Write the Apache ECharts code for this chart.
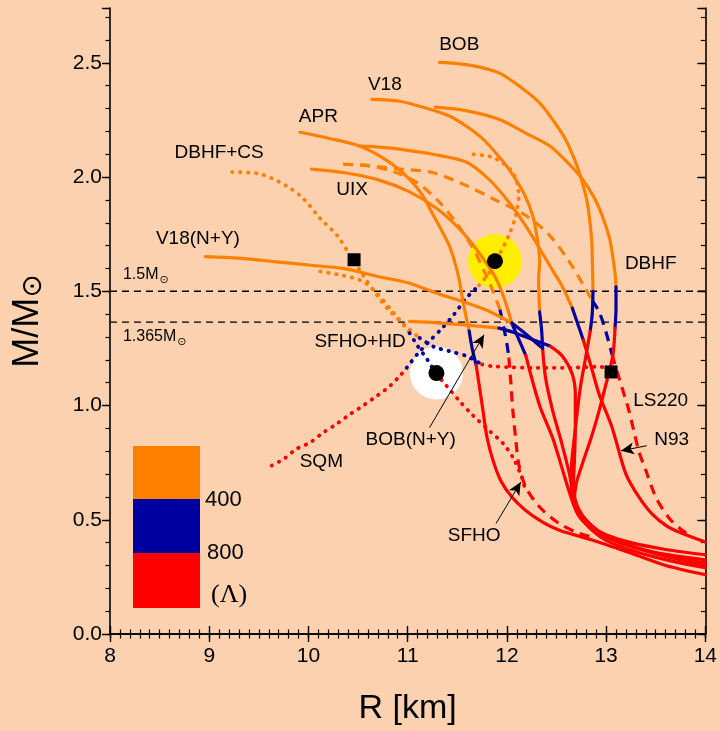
<!DOCTYPE html>
<html><head><meta charset="utf-8">
<script src="https://cdn.jsdelivr.net/npm/echarts@6.0.0/dist/echarts.min.js"></script>
<style>html,body{margin:0;padding:0;background:#FBD1AF;}#c{width:720px;height:731px;}</style>
</head><body><div id="c"></div><script>
// ---------- data (R [km], M/Msun) ----------
// each EOS split into orange (Λ<400), blue (400-800), red (Λ>800) parts
const BOB_o = [[11.32,2.502],[11.62,2.49],[11.92,2.456],[12.15,2.39],[12.33,2.325],[12.48,2.24],[12.59,2.166],[12.68,2.08],[12.74,2.006],[12.80,1.91],[12.83,1.832],[12.855,1.72],[12.862,1.62],[12.868,1.50]];
const BOB_b = [[12.868,1.50],[12.86,1.40],[12.84,1.326]];
const BOB_r = [[12.84,1.326],[12.79,1.20],[12.74,1.078],[12.68,0.86],[12.65,0.72],[12.65,0.62],[12.69,0.55],[12.79,0.49],[12.97,0.44],[13.25,0.40],[13.6,0.37],[14.0,0.347]];

const DBHF_o = [[11.28,2.306],[11.6,2.29],[11.92,2.253],[12.2,2.19],[12.43,2.137],[12.62,2.06],[12.76,1.992],[12.88,1.91],[12.96,1.832],[13.03,1.74],[13.06,1.673],[13.09,1.58],[13.10,1.52]];
const DBHF_b = [[13.10,1.52],[13.10,1.43],[13.09,1.339]];
const DBHF_r = [[13.09,1.339],[13.07,1.223],[13.03,1.146],[12.99,1.078],[12.93,0.978],[12.85,0.86],[12.76,0.744],[12.70,0.66],[12.68,0.58],[12.72,0.52],[12.83,0.47],[13.02,0.42],[13.3,0.375],[13.65,0.345],[14.0,0.325]];

const V18_o = [[10.64,2.34],[10.92,2.332],[11.2,2.30],[11.42,2.267],[11.6,2.22],[11.76,2.166],[11.9,2.10],[12.02,2.035],[12.17,1.93],[12.26,1.832],[12.31,1.72],[12.33,1.63],[12.32,1.556],[12.33,1.41]];
const V18_b = [[12.33,1.41],[12.35,1.33],[12.36,1.25]];
const V18_r = [[12.36,1.25],[12.39,1.12],[12.46,0.98],[12.55,0.84],[12.62,0.72],[12.67,0.62],[12.72,0.55],[12.82,0.49],[13.0,0.43],[13.3,0.38],[13.65,0.34],[14.0,0.31]];

const N93_o = [[10.52,2.135],[10.75,2.13],[10.92,2.122],[11.25,2.10],[11.59,2.066],[11.82,1.99],[12.02,1.891],[12.2,1.78],[12.33,1.687],[12.45,1.60],[12.56,1.52],[12.66,1.426]];
const N93_b = [[12.66,1.426],[12.72,1.35],[12.77,1.287]];
const N93_r = [[12.77,1.287],[12.85,1.17],[12.93,1.049],[13.06,0.904],[13.20,0.70],[13.33,0.60],[13.46,0.527],[13.62,0.47],[13.77,0.44],[14.0,0.403]];

const APR_o = [[9.915,2.196],[10.2,2.17],[10.52,2.135],[10.8,2.07],[11.02,1.99],[11.15,1.92],[11.25,1.84],[11.35,1.76],[11.42,1.70],[11.48,1.62],[11.52,1.55],[11.56,1.45],[11.62,1.326]];
const APR_b = [[11.62,1.326],[11.65,1.25],[11.69,1.178]];
const APR_r = [[11.69,1.178],[11.76,0.976],[11.80,0.86],[11.86,0.76],[11.94,0.67],[12.05,0.60],[12.19,0.541],[12.36,0.49],[12.53,0.454],[12.86,0.411],[13.26,0.352],[13.6,0.30],[14.0,0.26]];

const UIX_o = [[10.03,2.035],[10.35,2.02],[10.69,1.99],[11.02,1.935],[11.3,1.86],[11.55,1.76],[11.75,1.65],[11.89,1.556],[11.98,1.46],[12.05,1.36]];
const UIX_b = [[12.05,1.36],[12.12,1.29],[12.19,1.22]];
const UIX_r = [[12.19,1.22],[12.33,1.0],[12.46,0.86],[12.56,0.72],[12.63,0.62],[12.7,0.54],[12.82,0.47],[13.0,0.41],[13.3,0.36],[13.65,0.32],[14.0,0.29]];

const V18NY_o = [[8.96,1.652],[9.3,1.645],[9.68,1.629],[10.0,1.615],[10.35,1.60],[10.7,1.565],[11.02,1.535],[11.3,1.49],[11.55,1.456],[11.82,1.413],[12.05,1.361]];
const V18NY_b = [[12.05,1.361],[12.2,1.31],[12.36,1.25]];

const SFHOHD_o = [[11.02,1.368],[11.3,1.362],[11.6,1.352],[11.92,1.339]];
const SFHOHD_b = [[11.92,1.339],[12.07,1.32],[12.25,1.29],[12.44,1.259]];
const SFHOHD_r = [[12.44,1.259],[12.56,1.216],[12.66,1.136],[12.69,1.049],[12.69,0.904],[12.68,0.75],[12.67,0.65],[12.69,0.57],[12.77,0.50],[12.92,0.45],[13.15,0.40],[13.5,0.35],[14.0,0.30]];

const SFHO_o = [[10.35,2.056],[10.6,2.05],[10.85,2.025],[11.09,1.977],[11.32,1.89],[11.49,1.80],[11.66,1.687],[11.79,1.571],[11.86,1.50],[11.93,1.42]];
const SFHO_b = [[11.93,1.42],[11.97,1.34],[12.0,1.27],[12.02,1.21]];
const SFHO_r = [[12.02,1.21],[12.04,1.10],[12.06,0.978],[12.09,0.85],[12.12,0.743],[12.19,0.643],[12.33,0.556],[12.53,0.483],[12.73,0.44],[12.9,0.42]];

const LS220_o = [[10.35,2.056],[10.6,2.05],[10.92,2.035],[11.25,2.02],[11.59,1.963],[11.86,1.905],[12.19,1.832],[12.43,1.745],[12.63,1.629],[12.79,1.513],[12.86,1.46]];
const LS220_b = [[12.86,1.46],[12.93,1.41],[13.0,1.32],[13.06,1.223]];
const LS220_r = [[13.06,1.223],[13.13,1.121],[13.23,0.978],[13.33,0.80],[13.40,0.717],[13.50,0.60],[13.63,0.51],[13.76,0.456],[13.85,0.43]];

const CS_o = [[9.23,2.022],[9.51,2.014],[9.78,1.961],[9.95,1.905],[10.12,1.818],[10.29,1.744],[10.42,1.657],[10.55,1.57],[10.69,1.483],[10.82,1.413],[10.97,1.352],[11.12,1.296]];
const CS_b = [[11.12,1.296],[11.27,1.256],[11.42,1.238],[11.59,1.217],[11.75,1.18]];
const CS_r = [[11.75,1.18],[11.85,1.172],[12.02,1.168],[12.26,1.165],[12.6,1.165],[12.93,1.17],[13.04,1.16]];

const HYB_o = [[10.12,1.587],[10.35,1.569],[10.55,1.543],[10.69,1.491],[10.82,1.426],[10.92,1.374],[11.02,1.317]];
const HYB_b = [[11.02,1.317],[11.10,1.261],[11.20,1.20],[11.28,1.143],[11.34,1.113]];
const HYB_r = [[11.34,1.113],[11.39,1.087],[11.52,1.021],[11.65,0.96],[11.82,0.891],[11.97,0.83],[12.07,0.765],[12.15,0.686],[12.19,0.62]];

const SQM_r = [[9.63,0.737],[9.75,0.766],[9.88,0.81],[10.02,0.839],[10.15,0.882],[10.28,0.918],[10.42,0.962],[10.55,0.999],[10.69,1.042],[10.82,1.085],[10.92,1.129],[10.99,1.165]];
const SQM_b = [[10.99,1.165],[11.10,1.226],[11.22,1.282],[11.35,1.34],[11.47,1.40],[11.59,1.47],[11.72,1.526]];
const SQM_o = [[11.72,1.526],[11.82,1.58],[11.92,1.658],[12.02,1.745],[12.09,1.832],[12.12,1.919],[12.06,2.02],[11.86,2.086],[11.62,2.10]];

const refMasses = [1.5, 1.365];
const squareR = [10.46, 13.05], squareM = [1.638, 1.147];
const yellowPt = [11.88, 1.632], whitePt = [11.29, 1.142];

const labelText = ['BOB','V18','APR','DBHF+CS','UIX','V18(N+Y)','DBHF','SFHO+HD','LS220','N93','BOB(N+Y)','SQM','SFHO'];
const labelR = [11.52,10.77,10.10,9.10,10.44,8.886,13.45,10.52,13.55,13.66,11.03,10.13,11.67];
const labelM = [2.578,2.405,2.266,2.105,1.944,1.731,1.62,1.278,1.023,0.849,0.849,0.756,0.43];
const arrows = [[[11.22,0.903],[11.77,1.31]], [[11.89,0.483],[12.14,0.665]], [[13.41,0.824],[13.15,0.802]]];
const legendVals = ['400','800','(Λ)'];

// ---------- chart ----------
const ORANGE='#FF8000', BLUE='#0000A0', RED='#FF0000';
const FONT='"Liberation Sans", Arial, sans-serif';
const curves = [
  {o:SQM_o,b:SQM_b,r:SQM_r,s:'dot'},
  {o:CS_o,b:CS_b,r:CS_r,s:'dot'},
  {o:HYB_o,b:HYB_b,r:HYB_r,s:'dot'},
  {o:SFHO_o,b:SFHO_b,r:SFHO_r,s:'dash'},
  {o:LS220_o,b:LS220_b,r:LS220_r,s:'dash'},
  {o:APR_o,b:APR_b,r:APR_r,s:'solid'},
  {o:UIX_o,b:UIX_b,r:UIX_r,s:'solid'},
  {o:V18_o,b:V18_b,r:V18_r,s:'solid'},
  {o:N93_o,b:N93_b,r:N93_r,s:'solid'},
  {o:BOB_o,b:BOB_b,r:BOB_r,s:'solid'},
  {o:DBHF_o,b:DBHF_b,r:DBHF_r,s:'solid'},
  {o:V18NY_o,b:V18NY_b,r:null,s:'solid'},
  {o:SFHOHD_o,b:SFHOHD_b,r:SFHOHD_r,s:'solid'}
];
const series = [];
series.push({type:'scatter', data:[yellowPt], symbol:'circle', symbolSize:54, itemStyle:{color:'#FFEE00', opacity:1}, z:1, silent:true});
series.push({type:'scatter', data:[whitePt], symbol:'circle', symbolSize:53, itemStyle:{color:'#FFFFFF', opacity:1}, z:1, silent:true});
refMasses.forEach(m => series.push({type:'line', data:[[8,m],[14,m]], symbol:'none', silent:true, z:2,
  lineStyle:{color:'#000', width:1.4, type:[7,5]}}));
curves.forEach(c => {
  [[c.o,ORANGE],[c.b,BLUE],[c.r,RED]].forEach(([d,col]) => {
    if (!d) return;
    const ls = {color:col, width:3.2, type:'solid', cap:'round', join:'round'};
    if (c.s==='dash') { ls.type=[10,7]; ls.cap='butt'; }
    if (c.s==='dot') { ls.type=[0.5,7.5]; ls.width=3.8; }
    series.push({type:'line', data:d, symbol:'none', smooth:0.3, silent:true, z:3, lineStyle:ls});
  });
});
series.push({type:'scatter', data:[yellowPt, whitePt], symbol:'circle', symbolSize:16, itemStyle:{color:'#000', opacity:1}, z:5, silent:true});
series.push({type:'scatter', data:squareR.map((r,i)=>[r,squareM[i]]), symbol:'rect', symbolSize:13, itemStyle:{color:'#000', opacity:1}, z:5, silent:true});
series.push({type:'scatter', data:labelR.map((r,i)=>[r,labelM[i],labelText[i]]), symbolSize:1, itemStyle:{color:'rgba(0,0,0,0)', opacity:1}, z:6, silent:true,
  label:{show:true, position:'inside', formatter:p=>p.data[2], fontSize:19, color:'#000', opacity:1, fontFamily:FONT}});
series.push({type:'scatter', data:[[8.125,1.572,'1.5'],[8.125,1.302,'1.365']], symbolSize:1, itemStyle:{color:'rgba(0,0,0,0)', opacity:1}, z:6, silent:true,
  label:{show:true, position:'right', distance:0, opacity:1, formatter:p=>'{a|'+p.data[2]+'M}{b|⊙}',
    rich:{a:{fontSize:16, color:'#000', fontFamily:FONT, lineHeight:22, verticalAlign:'middle'}, b:{fontSize:11, color:'#000', fontFamily:'DejaVu Sans', verticalAlign:'bottom', lineHeight:22, padding:[6,0,0,1]}}}});
series.push({type:'line', data:[], silent:true, z:6,
  markLine:{silent:true, symbol:['none','arrow'], symbolSize:[9,13], animation:false, label:{show:false},
    lineStyle:{color:'#000', width:1, type:'solid', opacity:1},
    data: arrows.map(a=>[{coord:a[0]},{coord:a[1]}])}});

const xBase = {type:'value', min:8, max:14, interval:1, splitLine:{show:false}};
const yBase = {type:'value', min:0, max:2.74, splitLine:{show:false}};
const axLine = {show:true, lineStyle:{color:'#000', width:1.6}};
const option = {
  backgroundColor:'#FBD1AF',
  animation:false,
  grid:{left:109, right:13, top:8, bottom:93, containLabel:false},
  xAxis:[
    Object.assign({}, xBase, {position:'bottom', axisLine:axLine,
      axisTick:{inside:true, length:8, lineStyle:{color:'#000', width:1.4}},
      minorTick:{show:true, splitNumber:10, length:4.5, lineStyle:{color:'#000', width:1.2}},
      axisLabel:{fontSize:21, color:'#000', margin:12, fontFamily:FONT},
      name:'R [km]', nameLocation:'middle', nameGap:58, nameTextStyle:{fontSize:34, color:'#000', fontFamily:FONT}}),
    Object.assign({}, xBase, {position:'bottom', axisLine:{show:false},
      axisTick:{inside:false, length:4, lineStyle:{color:'#000', width:1.4}}, axisLabel:{show:false}}),
    Object.assign({}, xBase, {position:'top', axisLine:axLine,
      axisTick:{inside:true, length:8, lineStyle:{color:'#000', width:1.4}},
      minorTick:{show:true, splitNumber:10, length:4.5, lineStyle:{color:'#000', width:1.2}},
      axisLabel:{show:false}})
  ],
  yAxis:[
    Object.assign({}, yBase, {position:'left', interval:0.5, axisLine:axLine,
      axisTick:{inside:false, length:8, lineStyle:{color:'#000', width:1.4}},
      axisLabel:{fontSize:21, color:'#000', margin:8, fontFamily:FONT,
        formatter:v=> (Math.abs(v/0.5-Math.round(v/0.5))<1e-6 ? v.toFixed(1) : '')},
      name:'{a|M/M}{b|⊙}', nameLocation:'middle', nameGap:62, nameRotate:90,
      nameTextStyle:{rich:{a:{fontSize:36, color:'#000', fontFamily:FONT, lineHeight:40, verticalAlign:'middle'}, b:{fontSize:28, color:'#000', fontFamily:'DejaVu Sans', lineHeight:40, verticalAlign:'bottom', padding:[12,0,0,0]}}}}),
    Object.assign({}, yBase, {position:'left', interval:0.1, axisLine:{show:false},
      axisTick:{inside:false, length:4.5, lineStyle:{color:'#000', width:1.2}}, axisLabel:{show:false}}),
    Object.assign({}, yBase, {position:'right', interval:0.5, axisLine:axLine,
      axisTick:{inside:true, length:8, lineStyle:{color:'#000', width:1.4}}, axisLabel:{show:false}}),
    Object.assign({}, yBase, {position:'right', interval:0.1, axisLine:{show:false},
      axisTick:{inside:true, length:4.5, lineStyle:{color:'#000', width:1.2}}, axisLabel:{show:false}})
  ],
  graphic:[
    {type:'rect', shape:{x:133, y:446, width:67, height:53}, style:{fill:ORANGE}},
    {type:'rect', shape:{x:133, y:499, width:67, height:54}, style:{fill:BLUE}},
    {type:'rect', shape:{x:133, y:553, width:67, height:55}, style:{fill:RED}},
    {type:'text', x:205, y:500, style:{text:legendVals[0], fontSize:22, fontFamily:'Liberation Sans', fill:'#000', verticalAlign:'middle'}},
    {type:'text', x:207, y:553, style:{text:legendVals[1], fontSize:22, fontFamily:'Liberation Sans', fill:'#000', verticalAlign:'middle'}},
    {type:'text', x:211, y:595, style:{text:legendVals[2], fontSize:26, fontFamily:'Liberation Serif', fill:'#000', verticalAlign:'middle'}}
  ],
  series: series
};
const chart = echarts.init(document.getElementById('c'), null, {renderer:'canvas'});
chart.setOption(option);
</script></body></html>
